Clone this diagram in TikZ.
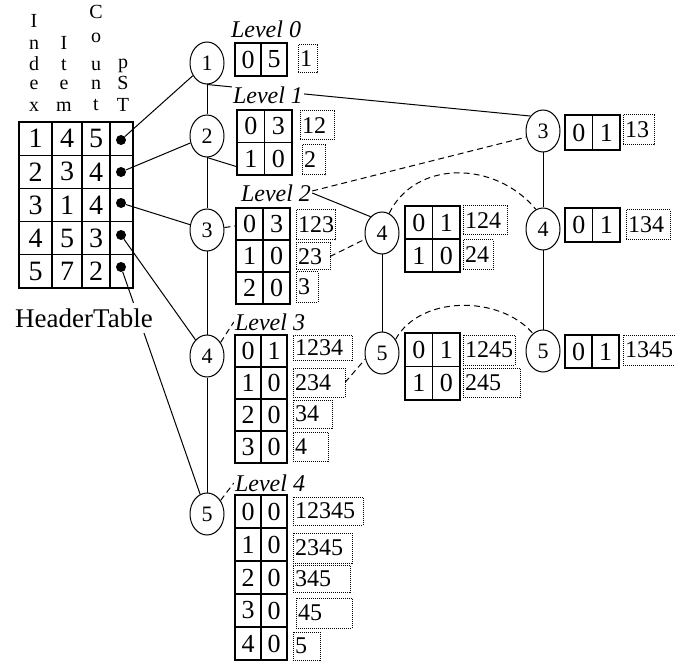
\documentclass[tikz,border=0pt]{standalone}
\usepackage{fontspec}
\setmainfont{Liberation Serif}
\usetikzlibrary{shapes.geometric,backgrounds}
% one row of a two-column count table
\newcommand{\cellrow}[6][]{%
  \node[cell,#1] (#2l) at (#3,#4) {#5};
  \node[cell,#1] (#2r) at (#2l.north east) {#6};}
% dotted box holding an itemset
\newcommand{\tagbx}[6]{%
  \node[tagbox, text width=#4pt, minimum height=#5pt] (#1) at (#2,#3) {#6};}
\begin{document}
\begin{tikzpicture}[x=1pt,y=-1pt,
  treenode/.style={draw, ellipse, fill=white, minimum width=34pt, minimum height=42pt,
    inner sep=0pt, line width=1pt, font=\fontsize{22}{22}\selectfont},
  cell/.style={draw, fill=white, anchor=north west, inner sep=0pt, outer sep=0pt,
    line width=1.2pt, font=\fontsize{26}{26}\selectfont},
  hcell/.style={draw, anchor=north west, inner sep=0pt, outer sep=0pt,
    minimum height=33.2pt, line width=1.3pt, font=\fontsize{28}{28}\selectfont},
  tagbox/.style={draw, densely dotted, fill=white, anchor=north west, inner xsep=2pt,
    inner ysep=0pt, outer sep=0pt, align=left, line width=1pt,
    font=\fontsize{24}{24}\selectfont},
  lvl/.style={fill=white, inner xsep=1pt, inner ysep=2pt,
    font=\fontsize{24}{24}\selectfont\itshape},
  letter/.style={anchor=base, inner sep=0pt, font=\fontsize{20}{20}\selectfont},
  ptr/.style={circle, fill=black, minimum size=10pt, inner sep=0pt},
  link/.style={line width=1pt},
  nodelink/.style={line width=1pt, dash pattern=on 6pt off 4pt}
]
\useasboundingbox (0,0) rectangle (675,663);

% ---- header table: column titles written downwards ----
\foreach \ch/\yy [count=\k] in {I/28, n/50, d/71, e/90, x/112}
  \node[letter] (ci\k) at (34,\yy) {\ch};
\foreach \ch/\yy [count=\k] in {I/50, t/71, e/90, m/112}
  \node[letter] (ct\k) at (64,\yy) {\ch};
\foreach \ch/\yy [count=\k] in {C/19, o/43, u/71, n/90, t/111}
  \node[letter] (cc\k) at (96,\yy) {\ch};
\foreach \ch/\yy [count=\k] in {p/69, S/90, T/112}
  \node[letter] (cp\k) at (123,\yy) {\ch};

% ---- header table rows ----
\foreach \i/\a/\b/\c/\dy in {1/1/4/5/140, 2/2/3/4/172, 3/3/1/4/203, 4/4/5/3/235, 5/5/7/2/267}{
  \pgfmathsetmacro\yy{122+33.2*(\i-1)}
  \node[hcell, minimum width=33pt] (h\i-a) at (19,\yy) {\a};
  \node[hcell, minimum width=30pt] (h\i-b) at (52,\yy) {\b};
  \node[hcell, minimum width=28pt] (h\i-c) at (82,\yy) {\c};
  \node[hcell, minimum width=23pt] (h\i-d) at (110,\yy) {};
  \node[ptr] (d\i) at (121,\dy) {};
}
\node[fill=white, inner xsep=2pt, inner ysep=6pt, font=\fontsize{27}{27}\selectfont]
  (htab) at (84,318) {HeaderTable};

% ---- tree nodes ----
\node[treenode] (n1) at (207,63) {1};
\node[treenode] (n2) at (207,136) {2};
\node[treenode] (n3) at (207,230) {3};
\node[treenode] (n4) at (207,356) {4};
\node[treenode] (n5) at (207,514) {5};
\node[treenode] (n4a) at (382,233) {4};
\node[treenode] (n5a) at (382,353) {5};
\node[treenode] (n3b) at (543,131) {3};
\node[treenode] (n4b) at (543,229) {4};
\node[treenode] (n5b) at (543,351) {5};

% ---- level labels ----
\node[lvl] (lv0) at (266,29) {Level 0};
\node[lvl] (lv1) at (268,95) {Level 1};
\node[lvl] (lv2) at (276,193) {Level 2};
\node[lvl] (lv3) at (270,322) {Level 3};
\node[lvl] (lv4) at (270,483) {Level 4};

% ---- count tables ----
\cellrow[minimum width=26pt, minimum height=33pt]{t0a}{235}{43}{0}{5}
\cellrow[minimum width=27.5pt, minimum height=32.5pt]{t1a}{237}{110}{0}{3}
\cellrow[minimum width=27.5pt, minimum height=32.5pt]{t1b}{237}{142.5}{1}{0}
\cellrow[minimum width=27pt, minimum height=32pt]{t2a}{236}{208}{0}{3}
\cellrow[minimum width=27pt, minimum height=32pt]{t2b}{236}{240}{1}{0}
\cellrow[minimum width=27pt, minimum height=32pt]{t2c}{236}{272}{2}{0}
\cellrow[minimum width=26pt, minimum height=32pt]{t3a}{235}{335}{0}{1}
\cellrow[minimum width=26pt, minimum height=32pt]{t3b}{235}{367}{1}{0}
\cellrow[minimum width=26pt, minimum height=32pt]{t3c}{235}{399}{2}{0}
\cellrow[minimum width=26pt, minimum height=32pt]{t3d}{235}{431}{3}{0}
\cellrow[minimum width=26pt, minimum height=33pt]{t4a}{235}{495}{0}{0}
\cellrow[minimum width=26pt, minimum height=33pt]{t4b}{235}{528}{1}{0}
\cellrow[minimum width=26pt, minimum height=33pt]{t4c}{235}{561}{2}{0}
\cellrow[minimum width=26pt, minimum height=33pt]{t4d}{235}{594}{3}{0}
\cellrow[minimum width=26pt, minimum height=33pt]{t4e}{235}{627}{4}{0}
\cellrow[minimum width=27.5pt, minimum height=33pt]{u4a}{405}{206}{0}{1}
\cellrow[minimum width=27.5pt, minimum height=33pt]{u4b}{405}{239}{1}{0}
\cellrow[minimum width=27.5pt, minimum height=33.5pt]{u5a}{405}{333}{0}{1}
\cellrow[minimum width=27.5pt, minimum height=33.5pt]{u5b}{405}{366.5}{1}{0}
\cellrow[minimum width=27.5pt, minimum height=35pt]{v3a}{565}{115}{0}{1}
\cellrow[minimum width=27.5pt, minimum height=34pt]{v4a}{565}{208}{0}{1}
\cellrow[minimum width=27pt, minimum height=33pt]{v5a}{565}{335}{0}{1}

% ---- itemset boxes ----
\tagbx{g0}{298}{45}{15}{28}{1}
\tagbx{g1a}{300}{111}{30}{29}{12}
\tagbx{g1b}{302}{145}{19}{30}{2}
\tagbx{g2a}{296}{210}{35}{30}{123}
\tagbx{g2b}{296}{243}{30}{27}{23}
\tagbx{g2c}{296}{272}{18}{30}{3}
\tagbx{g3a}{293}{335}{55}{25}{1234}
\tagbx{g3b}{293}{368}{48}{29}{234}
\tagbx{g3c}{293}{400}{35}{28}{34}
\tagbx{g3d}{293}{432}{31}{29}{4}
\tagbx{g4a}{293}{497}{66}{28}{12345}
\tagbx{g4b}{293}{533}{55}{30}{2345}
\tagbx{g4c}{293}{565}{53}{27}{345}
\tagbx{g4d}{296}{598}{52}{30}{45}
\tagbx{g4e}{293}{632}{23}{28}{5}
\tagbx{gu4a}{463}{206}{40}{29}{124}
\tagbx{gu4b}{463}{240}{26}{30}{24}
\tagbx{gu5a}{463}{335}{48}{30}{1245}
\tagbx{gu5b}{463}{368}{53}{29}{245}
\tagbx{gv3}{623}{115}{27}{30}{13}
\tagbx{gv4}{626}{210}{40}{30}{134}
\tagbx{gv5}{623}{335}{48}{30}{1345}

% ---- connectors ----
\begin{scope}[on background layer]
  % tree edges
  \draw[link] (n1) -- (n2) -- (n3) -- (n4) -- (n5);
  \draw[link] (n4a) -- (n5a);
  \draw[link] (n3b) -- (n4b) -- (n5b);
  \draw[link] (n1.south) -- (n3b.130);
  \draw[link] (n2.south) -- ([yshift=-8pt]t1bl.west);
  \draw[link] (lv2.east) -- (n4a.125);
  % header table pointers
  \foreach \i in {1,...,5}
    \draw[link] (d\i) -- (n\i);
  % node-links between equal items
  \draw[nodelink] (n3) -- (t2al);
  \draw[nodelink] ([yshift=2pt]lv2.east) -- (n3b.200);
  \draw[nodelink] (n4.45) -- (lv3.west);
  \draw[nodelink] (g2b.east) -- (n4a.200);
  \draw[nodelink] (n5.45) -- (lv4.west);
  \draw[nodelink] (g3b.east) -- (n5a.200);
  \draw[nodelink] (n4a.70) .. controls (415,160) and (495,160) .. (n4b.110);
  \draw[nodelink] (n5a.45) .. controls (420,295) and (500,295) .. (n5b.120);
\end{scope}
\end{tikzpicture}
\end{document}
